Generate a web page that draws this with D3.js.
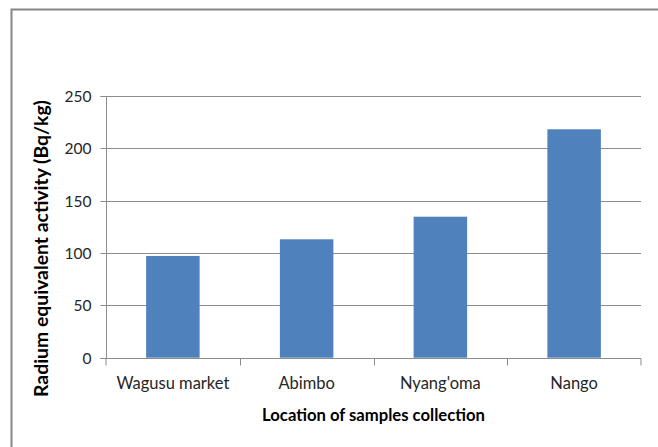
<!DOCTYPE html>
<html><head><meta charset="utf-8">
<script src="https://cdn.jsdelivr.net/npm/d3@7"></script>
<style>html,body{margin:0;padding:0;background:#fff;} svg{display:block;}</style>
</head><body>
<svg id="chart" width="658" height="447"></svg>
<script>
const categories = ["Wagusu market", "Abimbo", "Nyang'oma", "Nango"];
const values = [97.2, 113.1, 134.7, 218.2];
const yTicks = [0, 50, 100, 150, 200, 250];
const yTitle = "Radium equivalent activity (Bq/kg)";
const xTitle = "Location of samples collection";

(function () {
const svg = d3.select("#chart");
const font = "Lato, 'Open Sans', sans-serif";
const pL = 106, pR = 641, pT = 96, pB = 357.7;

// outer frame (top and left edges visible)
svg.append("path").attr("d", `M11.5,447 L11.5,9.5 L658,9.5`)
  .attr("fill", "none").attr("stroke", "#858585").attr("stroke-width", 2);

const xb = d3.scaleBand().domain(categories).range([pL, pR]);
const y = d3.scaleLinear().domain([0, 250]).range([pB, pT]);

// gridlines
svg.append("g").selectAll("line").data(yTicks.filter(d => d > 0)).join("line")
  .attr("x1", pL).attr("x2", pR)
  .attr("y1", d => Math.round(y(d)) + 0.5).attr("y2", d => Math.round(y(d)) + 0.5)
  .attr("stroke", "#8c8c8c").attr("stroke-width", 1);

// bars
svg.append("g").selectAll("rect").data(categories).join("rect")
  .attr("x", d => xb(d) + xb.bandwidth() * 0.3)
  .attr("width", xb.bandwidth() * 0.4)
  .attr("y", (d, i) => y(values[i]))
  .attr("height", (d, i) => y(0) - y(values[i]))
  .attr("fill", "#4f81bd");

// y axis
const yAxis = svg.append("g").attr("transform", `translate(${pL + 0.5},0)`)
  .call(d3.axisLeft(y).tickValues(yTicks).tickSize(6).tickPadding(9).tickFormat(d3.format("d")));
yAxis.select(".domain").attr("stroke", "#8c8c8c").attr("d", `M-6,${Math.round(pT)+0.5}H0V${Math.round(pB)+0.5}H-6`);
yAxis.selectAll(".tick line").attr("stroke", "#8c8c8c");
yAxis.selectAll(".tick").attr("transform", d => `translate(0,${Math.round(y(d)) + 0.5})`);
yAxis.selectAll("text").attr("font-family", font).attr("font-size", 16).attr("fill", "#262626").attr("dy", "0.36em");

// x axis
const xAxis = svg.append("g").attr("transform", `translate(0,${Math.round(pB) + 0.5})`)
  .call(d3.axisBottom(xb).tickSize(0).tickPadding(19));
xAxis.select(".domain").attr("stroke", "#8c8c8c").attr("d", `M${pL},7V0H${pR}V7`);
xAxis.selectAll("text").attr("font-family", font).attr("font-size", 16).attr("fill", "#262626");
// category separator ticks
svg.append("g").selectAll("line").data(categories.slice(1)).join("line")
  .attr("x1", d => Math.round(xb(d)) + 0.5).attr("x2", d => Math.round(xb(d)) + 0.5)
  .attr("y1", Math.round(pB) + 0.5).attr("y2", Math.round(pB) + 7.5)
  .attr("stroke", "#8c8c8c");

function fit(sel, w) {
  const n = sel.node(); const fs = parseFloat(sel.attr("font-size"));
  const len = n.getComputedTextLength();
  sel.attr("font-size", (fs * w / len).toFixed(2));
}

const xt = svg.append("text").attr("x", 373.5).attr("y", 421).attr("text-anchor", "middle")
  .attr("font-family", font).attr("font-weight", "bold").attr("font-size", 14).attr("fill", "#000")
  .text(xTitle);
fit(xt, 223);

const yt = svg.append("text").attr("transform", "translate(48,248.5) rotate(-90)").attr("text-anchor", "middle")
  .attr("font-family", font).attr("font-weight", "bold").attr("font-size", 14).attr("fill", "#000")
  .text(yTitle);
fit(yt, 297);

const firstLab = xAxis.selectAll(".tick text").filter(d => d === "Wagusu market");
const fl = firstLab.node().getComputedTextLength();
const catSize = 16 * 113 / fl;
xAxis.selectAll(".tick text").attr("font-size", catSize.toFixed(2));
const topLab = yAxis.selectAll(".tick text").filter(d => d === 250);
const tl = topLab.node().getComputedTextLength();
yAxis.selectAll("text").attr("font-size", (16 * 27 / tl).toFixed(2));
})();
</script>
</body></html>
